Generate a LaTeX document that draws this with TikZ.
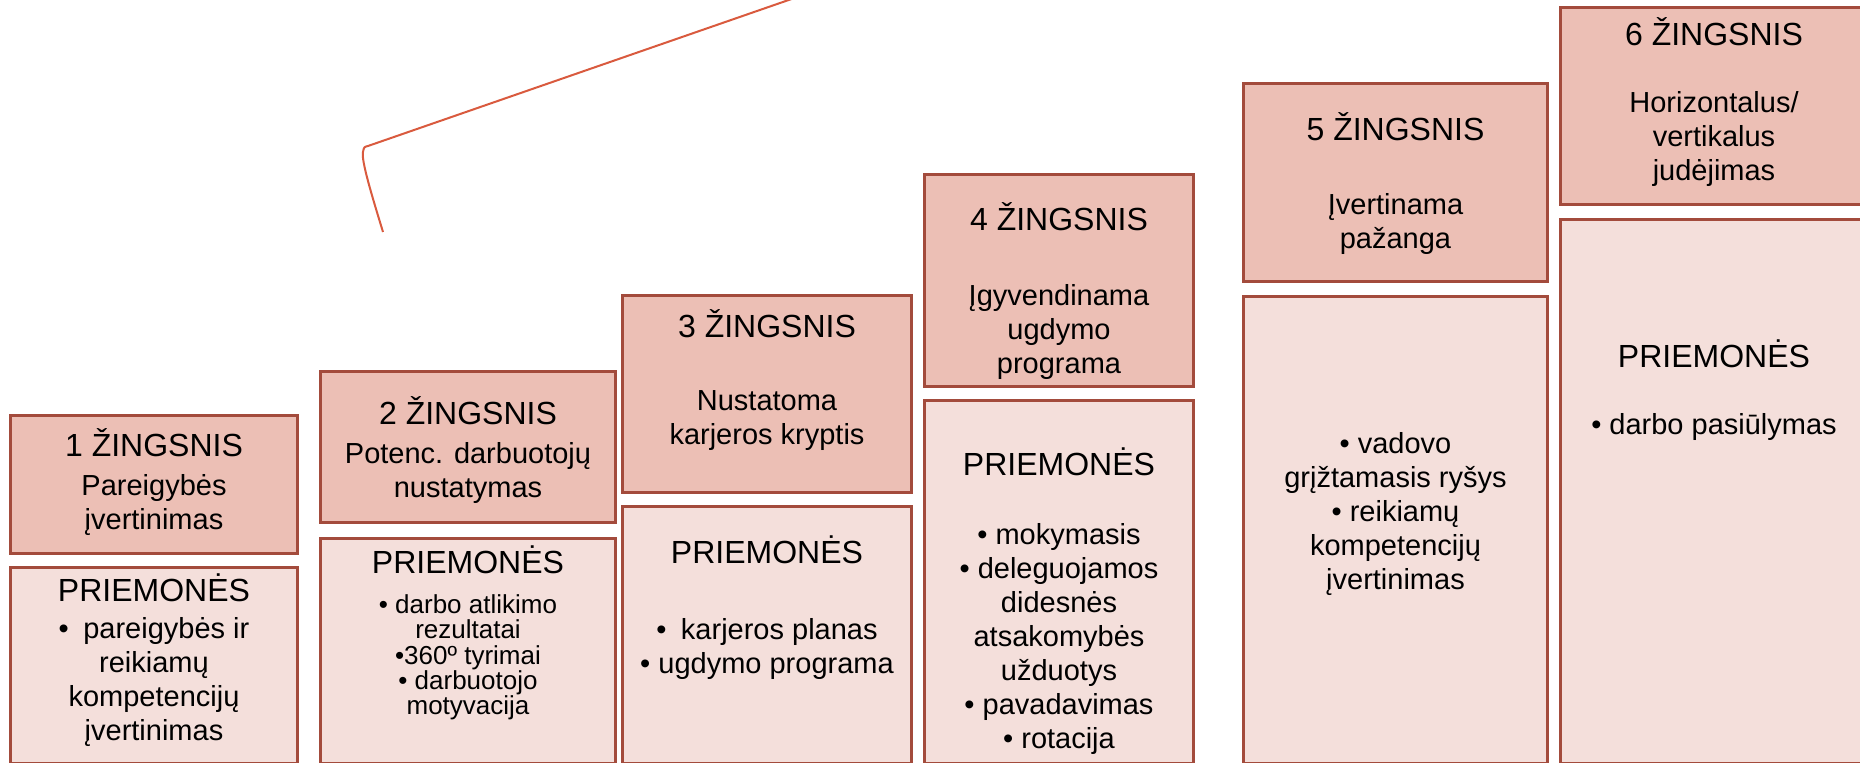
\documentclass[tikz,border=0pt]{standalone}
\usepackage{fontspec}
\setmainfont{Liberation Sans}
\definecolor{stepfill}{RGB}{236,191,181}
\definecolor{toolfill}{RGB}{244,223,219}
\definecolor{boxline}{RGB}{163,75,60}
\definecolor{braceline}{RGB}{217,90,62}
\newcommand{\headfont}{\fontsize{16}{17}\selectfont}

\begin{document}
\begin{tikzpicture}[
    x=0.5pt, y=-0.5pt,
    box/.style={draw=boxline, line width=1.5pt, anchor=north west, inner sep=0pt},
    stepbox/.style={box, fill=stepfill},
    toolbox/.style={box, fill=toolfill},
    boxtext/.style={align=center, inner sep=0pt, font=\fontsize{14.5}{17}\selectfont},
    smalltext/.style={boxtext, font=\fontsize{13}{12.6}\selectfont},
    brace/.style={draw=braceline, line width=1pt},
  ]
  \useasboundingbox (0,0) rectangle (1860,763);
  % boxes: nr / left / right / top / step bottom / tools top
  \foreach \nr/\xl/\xr/\yt/\ys/\ym in {
      1/9/296/414/552/566, 2/319/614/370/521/537, 3/621/910/294/491/505,
      4/923/1192/173/385/399, 5/1242/1546/82/280/295, 6/1559/1866/6/203/218} {
    \node[stepbox, minimum width={(\xr-\xl)*0.5pt}, minimum height={(\ys-\yt)*0.5pt}] (s\nr) at (\xl,\yt) {};
    \node[toolbox, minimum width={(\xr-\xl)*0.5pt}, minimum height={(762-\ym)*0.5pt}] (m\nr) at (\xl,\ym) {};
  }

  % step texts
  \node[boxtext] (t1) at (s1 |- 0,482) {{\headfont 1 ŽINGSNIS}\\[2.5pt] Pareigybės\\ įvertinimas};
  \node[boxtext] (t2) at (s2 |- 0,450) {{\headfont 2 ŽINGSNIS}\\[2.5pt] Potenc. darbuotojų\\ nustatymas};
  \node[boxtext] (t3) at (s3 |- 0,380) {{\headfont 3 ŽINGSNIS}\\[19.5pt] Nustatoma\\ karjeros kryptis};
  \node[boxtext] (t4) at (s4 |- 0,291) {{\headfont 4 ŽINGSNIS}\\[20.5pt] Įgyvendinama\\ ugdymo\\ programa};
  \node[boxtext] (t5) at (s5 |- 0,184) {{\headfont 5 ŽINGSNIS}\\[20pt] Įvertinama\\ pažanga};
  \node[boxtext] (t6) at (s6 |- 0,102) {{\headfont 6 ŽINGSNIS}\\[16.5pt] Horizontalus/\\ vertikalus\\ judėjimas};

  % tools texts
  \node[boxtext] (p1) at (m1 |- 0,660) {{\headfont PRIEMONĖS}\\[1.5pt] •\hspace{0.5em}pareigybės ir\\ reikiamų\\ kompetencijų\\ įvertinimas};
  \node[smalltext] (p2) at (m2 |- 0,633) {{\headfont PRIEMONĖS}\\[7.4pt] • darbo atlikimo\\ rezultatai\\ •360º tyrimai\\ • darbuotojo\\ motyvacija};
  \node[boxtext] (p3) at (m3 |- 0,608) {{\headfont PRIEMONĖS}\\[21pt] •\hspace{0.5em}karjeros planas\\ • ugdymo programa};
  \node[boxtext] (p4) at (m4 |- 0,601) {{\headfont PRIEMONĖS}\\[17.5pt] • mokymasis\\ • deleguojamos\\ didesnės\\ atsakomybės\\ užduotys\\ • pavadavimas\\ • rotacija};
  \node[boxtext] (p5) at (m5 |- 0,514) {• vadovo\\ grįžtamasis ryšys\\ • reikiamų\\ kompetencijų\\ įvertinimas};
  \node[boxtext] (p6) at (m6 |- 0,390) {{\headfont PRIEMONĖS}\\[16.5pt] • darbo pasiūlymas};

  % brace
  \coordinate (b1) at (383,232);
  \coordinate (b2) at (368,146);
  \coordinate (b3) at (806,-6);
  \draw[brace] (b1) .. controls (372,196) and (361,160) .. (363,152) .. controls (364,147) .. (b2) -- (b3);
\end{tikzpicture}
\end{document}
